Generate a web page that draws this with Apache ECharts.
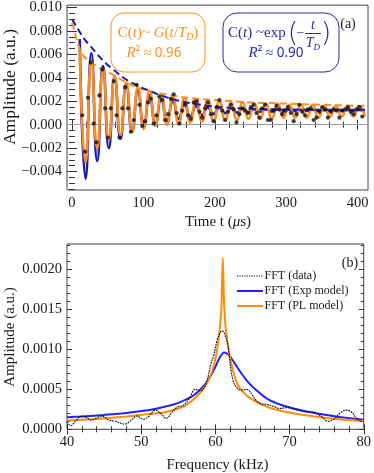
<!DOCTYPE html>
<html><head><meta charset="utf-8">
<script src="https://cdn.jsdelivr.net/npm/echarts@6/dist/echarts.min.js"></script>
<style>html,body{margin:0;padding:0;background:#fff}#c{width:374px;height:473px}</style>
</head><body><div id="c"></div>
<script>
// ---------- tick labels ----------
const timeTicks = [0, 100, 200, 300, 400];
const ampTicksA = [-0.004, -0.002, 0, 0.002, 0.004, 0.006, 0.008, 0.010];
const freqTicks = [40, 50, 60, 70, 80];
const ampTicksB = [0, 0.0005, 0.0010, 0.0015, 0.0020];
const legendNames = ['FFT (data)', 'FFT (Exp model)', 'FFT (PL model)'];

// ---------- panel (a) ----------
const OFFSET = 0.00115;
const dataT = [14.4,18.4,22.4,26.4,30.4,34.4,38.4,42.4,46.4,50.4,54.4,58.4,62.4,66.4,70.4,74.4,78.4,82.4,86.4,90.4,
  94.4,98.4,102.4,106.4,110.4,114.4,118.4,122.4,126.4,130.4,134.4,138.4,142.4,146.4,150.4,154.4,158.4,162.4,166.4,170.4,
  174.4,178.4,182.4,186.4,190.4,194.4,198.4,202.4,206.4,210.4,214.4,218.4,222.4,226.4,230.4,234.4,238.4,242.4,246.4,250.4,
  254.4,258.4,262.4,266.4,270.4,274.4,278.4,282.4,286.4,290.4,294.4,298.4,302.4,306.4,310.4,314.4,318.4,322.4,326.4,330.4,
  334.4,338.4,342.4,346.4,350.4,354.4,358.4,362.4,366.4,370.4,374.4,378.4,382.4,386.4,390.4,394.4,398.4,402.4,406.4];
const dataV = [0.0008,-0.0023,0.0023,0.0053,0.0001,-0.0015,0.0025,0.0047,0.0014,-0.0011,0.0014,0.0037,0.0008,-0.0011,0.0014,0.0032,0.0014,-0.0006,0.0004,0.0034,
  0.0017,-0.0001,0.0003,0.0019,0.0022,0.0001,0.0008,0.0024,0.0021,0.0004,0.0009,0.0022,0.0026,0.0010,0.0001,0.0012,0.0017,0.0008,0.0005,0.0019,
  0.0020,0.0011,0.0006,0.0014,0.0019,0.0009,0.0003,0.0015,0.0021,0.0012,0.0004,0.0011,0.0017,0.0013,0.0002,0.0009,0.0014,0.0012,0.0010,0.0015,
  0.0017,0.0010,0.0006,0.0014,0.0017,0.0004,0.0004,0.0012,0.0016,0.0013,0.0009,0.0012,0.0015,0.0010,0.0003,0.0009,0.0017,0.0011,0.0008,0.0013,
  0.0014,0.0004,0.0006,0.0011,0.0015,0.0013,0.0006,0.0011,0.0013,0.0012,0.0006,0.0012,0.0013,0.0015,0.0011,0.0009,0.0013,0.0015,0.0007];

// extrema of the fitted oscillations (peak, trough, peak, ...)
const oscT = [10.8,19.0,27.1,35.3,43.4,51.6,59.7,67.9,76.0,84.2,92.3,100.5,108.6,116.8,124.9,133.1,141.2,149.4,157.5,165.7,
  173.8,182.0,190.1,198.3,206.4,214.6,222.7,230.9,239.0,247.2,255.3,263.5,271.6,279.8,287.9,296.1,304.2,312.4,320.5,328.7,
  336.8,345.0,353.1,361.3,369.4,377.6,385.7,393.9,402.0,410.2];
const expOsc = [0.0073,-0.0046,0.0061,-0.0031,0.0050,-0.0020,0.0041,-0.0012,0.0034,-0.0006,0.0029,-0.0002,0.0025,0.0001,0.0022,0.0003,0.0020,0.0005,0.0018,0.0007,
  0.0016,0.0008,0.0015,0.0009,0.00145,0.00098,0.0014,0.00103,0.00136,0.00107,0.00133,0.0011,0.00131,0.00112,0.0013,0.00114,0.00129,0.00116,0.00128,0.00117,
  0.00128,0.00118,0.00127,0.00119,0.00127,0.0012,0.00126,0.0012,0.00126,0.0012];
const plOsc = [0.0063,-0.0032,0.0054,-0.0020,0.0047,-0.0013,0.0041,-0.0009,0.0036,-0.0006,0.0032,-0.0003,0.0029,-0.0001,0.0026,0.0000,0.0024,0.0001,0.0023,0.0002,
  0.0022,0.0003,0.0021,0.0003,0.0020,0.0004,0.0019,0.0004,0.0019,0.0005,0.0018,0.0005,0.0018,0.0005,0.0018,0.0006,0.0017,0.0006,0.0017,0.0006,
  0.0017,0.0006,0.0016,0.0007,0.0016,0.0007,0.0016,0.0007,0.0016,0.0007];
// envelopes (dashed)
const expEnvT = [0,5,10,15,20,30,40,50,60,70,80,90,100,120,140,160,180,200,230,260,300,350,410];
const expEnvV = [0.0090,0.0085,0.0080,0.0075,0.0071,0.0064,0.0057,0.0051,0.0046,0.0041,0.0037,0.0034,0.0031,0.0026,0.0022,0.0019,0.0017,0.00155,0.0014,0.00134,0.0013,0.00128,0.00127];
const plEnvT = [0,3,6,9,12,16,20,25,30,40,50,60,70,80,90,100,120,140,160,180,200,250,300,350,410];
const plEnvV = [0.0087,0.0081,0.0074,0.0068,0.0063,0.0059,0.0056,0.0054,0.0052,0.0048,0.0045,0.0042,0.0038,0.0035,0.0032,0.0030,0.0027,0.0025,0.0023,0.0022,0.0021,0.0019,0.0018,0.0017,0.0016];

// ---------- panel (b) ----------
const fftDataF = [40,40.5,41.2,42.0,42.6,43.2,44.0,44.7,45.6,46.5,47.8,48.6,49.4,50.3,51.0,51.9,52.6,53.4,54.2,54.9,55.7,56.5,57.3,58.0,58.7,59.4,59.8,60.2,60.6,60.9,
  61.3,61.7,62.1,62.5,62.9,63.5,64.2,64.9,65.5,66.1,67.0,68.0,68.7,69.5,70.3,71.0,72.0,72.8,73.6,74.4,75.2,76.0,76.8,77.6,78.3,79.0,79.6,80];
const fftDataA = [0.000095,0.000045,0.00011,0.000166,0.00015,0.000116,0.00014,0.000166,0.000116,0.0001,0.000066,0.00011,0.000166,0.000125,0.00016,0.00024,0.0002,0.000137,0.00022,0.00028,
  0.0003,0.00039,0.0005,0.00048,0.00056,0.00082,0.00093,0.0011,0.0012,0.00123,
  0.00118,0.00105,0.00074,0.00058,0.00052,0.00049,0.0005,0.00044,0.00036,0.00032,0.00031,0.00028,0.00026,0.00027,0.00026,0.00024,0.00022,0.00022,0.0002,0.00015,
  0.0001,0.00013,0.0002,0.00024,0.00022,0.00014,0.0001,0.000095];
const fftExpF = [40,42,44,46,48,50,52,54,55,56,57,58,59,60,60.6,61.2,61.8,62.5,63.5,64.5,65.5,67,69,71,73,75,77,80];
const fftExpA = [0.00015,0.00016,0.000172,0.000188,0.000205,0.000228,0.000258,0.0003,0.00033,0.00037,0.00042,0.0005,0.00061,0.00078,0.0009,0.00096,0.00093,0.00084,0.0007,0.00058,
  0.00049,0.00038,0.0003,0.00025,0.00021,0.00018,0.00015,0.00012];
const fftPlF = [40,44,48,51,53,55,56,57,58,59,59.8,60.4,60.8,61.0,61.2,61.6,62.2,63,64,65,66.5,68,71,75,80];
const fftPlA = [0.00011,0.00013,0.00016,0.00019,0.00021,0.00026,0.0003,0.00037,0.00046,0.0006,0.0008,0.0011,0.0015,0.00214,0.0015,0.0011,0.0008,0.00056,0.00044,0.00037,
  0.0003,0.00025,0.00019,0.00014,0.0001];

// ---------- styling ----------
const SERIF = 'Liberation Serif';
const BLUE_A = '#1c1cae', ORANGE = '#ff8c1e', BLUE_B = '#2323ff', ORANGE_B = '#ff8c0a', DATA_C = '#0d0d0d';
const TXT_OR = '#f7931e', TXT_BL = '#2a2aa4';
const DOT = [1.8, 0.9];
const zip = (a, b) => a.map((v, i) => [v, b[i]]);
function grid(a, b, step, majors) {
  const r = [];
  for (let k = Math.round(a / step); k * step <= b + 1e-12; k++) {
    const v = +(k * step).toFixed(6);
    if (!majors.some(m => Math.abs(m - v) < step / 10)) r.push(v);
  }
  return r;
}
function axes(kind, gi, min, max, majors, minors, fmt, margin) {
  const pos = kind === 'x' ? ['bottom', 'top'] : ['left', 'right'];
  const base = { type: 'value', gridIndex: gi, min, max, splitLine: { show: false }, axisLine: { show: false } };
  const tick = (vals, len) => ({ show: true, inside: true, length: len, customValues: vals, lineStyle: { color: '#333', width: 1 } });
  return [
    Object.assign({}, base, { position: pos[0], axisTick: tick(majors, 5),
      axisLabel: { show: true, customValues: majors, formatter: fmt, margin: margin, fontFamily: SERIF, fontSize: 14.5, color: '#1a1a1a' } }),
    Object.assign({}, base, { position: pos[0], axisTick: tick(minors, 3), axisLabel: { show: false } }),
    Object.assign({}, base, { position: pos[1], axisTick: tick(majors, 5), axisLabel: { show: false } }),
    Object.assign({}, base, { position: pos[1], axisTick: tick(minors, 3), axisLabel: { show: false } })
  ];
}
const fmtA = v => (v < -1e-9 ? '\u2212' : '') + Math.abs(v).toFixed(3);
const fmtB = v => Math.abs(v).toFixed(4);
const fmtI = v => String(Math.round(v));

const xAxes = [].concat(
  axes('x', 0, -7, 414.5, timeTicks, grid(0, 410, 20, timeTicks), fmtI, 6),
  axes('x', 1, 40, 80, freqTicks, grid(40, 80, 2, freqTicks), fmtI, 5)
);
const yAxes = [].concat(
  axes('y', 0, -0.00557, 0.0102, ampTicksA, grid(-0.0055, 0.0102, 0.0005, ampTicksA), fmtA, 5),
  axes('y', 1, 0, 0.002316, ampTicksB, grid(0, 0.0023, 0.0001, ampTicksB), fmtB, 5)
);

const lineA = (name, data, color, width, type, smooth) => ({
  name, type: 'line', xAxisIndex: 0, yAxisIndex: 0, data, showSymbol: false, symbol: 'none',
  smooth: smooth, lineStyle: { color, width, type }, itemStyle: { color }, silent: true
});
const lineB = (name, data, color, width, type, smooth) => ({
  name, type: 'line', xAxisIndex: 4, yAxisIndex: 4, data, showSymbol: false, symbol: 'none',
  smooth: smooth, lineStyle: { color, width, type }, itemStyle: { color }, silent: true
});

const series = [
  Object.assign(lineA('exp', zip(oscT, expOsc), BLUE_A, 2.6, 'solid', 0.55), {
    markLine: { silent: true, symbol: 'none', label: { show: false }, lineStyle: { color: '#9a9a9a', width: 1, type: 'solid' }, data: [{ yAxis: OFFSET }] }
  }),
  lineA('pl', zip(oscT, plOsc), ORANGE, 2.6, 'solid', 0.55),
  lineA('plEnv', zip(plEnvT, plEnvV), ORANGE, 2, [7, 4], 0.3),
  lineA('expEnv', zip(expEnvT, expEnvV), BLUE_A, 2, [7, 4], 0.3),
  { name: 'data', type: 'scatter', xAxisIndex: 0, yAxisIndex: 0, data: zip(dataT, dataV), symbolSize: 4.2, itemStyle: { color: '#111' }, silent: true, z: 5 },
  lineB(legendNames[1], zip(fftExpF, fftExpA), BLUE_B, 2, 'solid', 0.3),
  lineB(legendNames[2], zip(fftPlF, fftPlA), ORANGE_B, 2, 'solid', 0.2),
  lineB(legendNames[0], zip(fftDataF, fftDataA), DATA_C, 1.1, DOT, 0.4)
];

const rich = (c, size) => ({
  n: { fontFamily: SERIF, fontSize: size, fill: c },
  i: { fontFamily: SERIF, fontStyle: 'italic', fontSize: size, fill: c },
  s: { fontFamily: SERIF, fontStyle: 'italic', fontSize: size * 0.65, fill: c, padding: [9, 0, 0, 0] },
  r: { fontFamily: 'Noto Sans', fontSize: size - 1.5, fill: c }
});

// legend drawn as graphic rows
const legendStyles = [
  { stroke: DATA_C, lineWidth: 1.2, lineDash: [1.3, 1.1] },
  { stroke: BLUE_B, lineWidth: 2 },
  { stroke: ORANGE_B, lineWidth: 2 }
];
const legendGraphic = [];
legendNames.forEach((nm, i) => {
  const y = 276 + i * 15;
  legendGraphic.push({ type: 'line', shape: { x1: 237, y1: y, x2: 263, y2: y }, style: legendStyles[i] });
  legendGraphic.push({ type: 'text', x: 264.5, y: y, style: { text: nm, fontFamily: SERIF, fontSize: 12, fill: '#222', align: 'left', verticalAlign: 'middle' } });
});

const graphic = [
  { type: 'text', x: 10, y: 87, rotation: Math.PI / 2, style: { text: 'Amplitude (a.u.)', fontFamily: SERIF, fontSize: 17.5, fill: '#1a1a1a', align: 'center', verticalAlign: 'middle' } },
  { type: 'text', x: 218, y: 222, style: { text: 'Time t ({i|\u03bc}s)', rich: { i: { fontFamily: SERIF, fontStyle: 'italic', fontSize: 15, fill: '#1a1a1a' } }, fontFamily: SERIF, fontSize: 15, fill: '#1a1a1a', align: 'center', verticalAlign: 'middle' } },
  { type: 'text', x: 10, y: 337, rotation: Math.PI / 2, style: { text: 'Amplitude (a.u.)', fontFamily: SERIF, fontSize: 15, fill: '#1a1a1a', align: 'center', verticalAlign: 'middle' } },
  { type: 'text', x: 217.5, y: 465, style: { text: 'Frequency (kHz)', fontFamily: SERIF, fontSize: 15, fill: '#1a1a1a', align: 'center', verticalAlign: 'middle' } },
  { type: 'text', x: 348, y: 24, style: { text: '(a)', fontFamily: SERIF, fontSize: 14, fill: '#1a1a1a', align: 'center', verticalAlign: 'middle' } },
  { type: 'text', x: 350, y: 263, style: { text: '(b)', fontFamily: SERIF, fontSize: 14, fill: '#1a1a1a', align: 'center', verticalAlign: 'middle' } },
  // orange annotation
  { type: 'rect', shape: { x: 111, y: 13, width: 94, height: 59, r: 13 }, style: { fill: 'none', stroke: TXT_OR, lineWidth: 1 } },
  { type: 'text', x: 158, y: 33, style: { text: '{n|C(}{i|t}{n|)~ }{i|G}{n|(}{i|t}{n|/}{i|T}{s|D}{n|)}', rich: rich(TXT_OR, 15), align: 'center', verticalAlign: 'middle' } },
  { type: 'text', x: 154, y: 53, style: { text: '{i|R}{r|\u00b2 \u2248 0.96}', rich: rich(TXT_OR, 15), align: 'center', verticalAlign: 'middle' } },
  // blue annotation
  { type: 'rect', shape: { x: 223, y: 13, width: 116, height: 59, r: 14 }, style: { fill: 'none', stroke: TXT_BL, lineWidth: 1 } },
  { type: 'text', x: 228, y: 33, style: { text: '{n|C(}{i|t}{n|) ~exp}', rich: rich(TXT_BL, 15), align: 'left', verticalAlign: 'middle' } },
  { type: 'text', x: 293, y: 34, style: { text: '(', fontFamily: 'DejaVu Sans', fontWeight: 'lighter', fontSize: 27, fill: TXT_BL, align: 'center', verticalAlign: 'middle' } },
  { type: 'text', x: 300.5, y: 33, style: { text: '\u2212', fontFamily: SERIF, fontSize: 14, fill: TXT_BL, align: 'center', verticalAlign: 'middle' } },
  { type: 'text', x: 313, y: 25, style: { text: 't', fontFamily: SERIF, fontStyle: 'italic', fontSize: 14, fill: TXT_BL, align: 'center', verticalAlign: 'middle' } },
  { type: 'line', shape: { x1: 305, y1: 33.5, x2: 321, y2: 33.5 }, style: { stroke: TXT_BL, lineWidth: 1 } },
  { type: 'text', x: 313, y: 43, style: { text: '{i|T}{s|D}', rich: rich(TXT_BL, 14), align: 'center', verticalAlign: 'middle' } },
  { type: 'text', x: 326, y: 34, style: { text: ')', fontFamily: 'DejaVu Sans', fontWeight: 'lighter', fontSize: 27, fill: TXT_BL, align: 'center', verticalAlign: 'middle' } },
  { type: 'text', x: 276, y: 53, style: { text: '{i|R}{r|\u00b2 \u2248 0.90}', rich: rich(TXT_BL, 15), align: 'center', verticalAlign: 'middle' } }
].concat(legendGraphic);

const chart = echarts.init(document.getElementById('c'), null, { renderer: 'canvas' });
chart.setOption({
  animation: false,
  backgroundColor: '#fff',
  grid: [
    { left: 67, top: 2.6, width: 301, height: 187.4, show: true, borderColor: '#444', borderWidth: 1, backgroundColor: 'transparent' },
    { left: 67, top: 244, width: 301, height: 185.3, show: true, borderColor: '#444', borderWidth: 1, backgroundColor: 'transparent' }
  ],
  xAxis: xAxes,
  yAxis: yAxes,
  series,
  graphic
});
</script></body></html>
